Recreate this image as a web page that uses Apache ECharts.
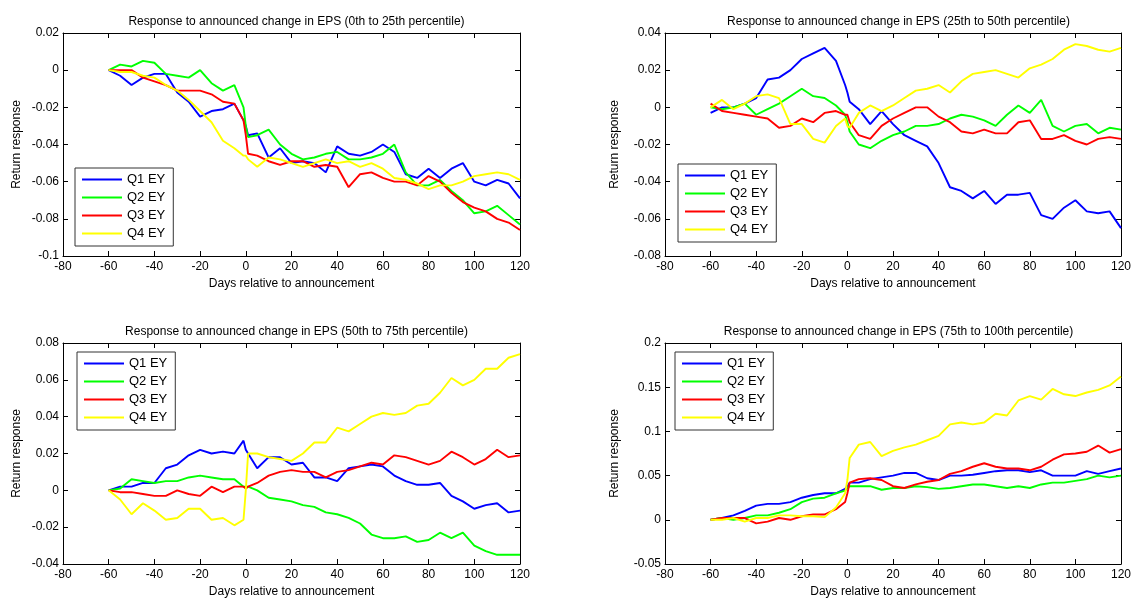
<!DOCTYPE html>
<html>
<head>
<meta charset="utf-8">
<title>Response to announced change in EPS</title>
<script src="https://cdn.jsdelivr.net/npm/echarts@6/dist/echarts.min.js"></script>
<style>
  html, body { margin: 0; padding: 0; background: #fff; }
  #chart { width: 1134px; height: 599px; }
</style>
</head>
<body>
<div id="chart"></div>
<script>
// days relative to announcement (sampled)
const days = [-60, -55, -50, -45, -40, -35, -30, -25, -20, -15, -10, -5, -1, 0, 1,
  5, 10, 15, 20, 25, 30, 35, 40, 45, 50, 55, 60, 65, 70, 75, 80, 85, 90, 95, 100, 105, 110, 115, 120]

const seriesNames = ['Q1 EY', 'Q2 EY', 'Q3 EY', 'Q4 EY']
const panelTitles = [
  'Response to announced change in EPS (0th to 25th percentile)',
  'Response to announced change in EPS (25th to 50th percentile)',
  'Response to announced change in EPS (50th to 75th percentile)',
  'Response to announced change in EPS (75th to 100th percentile)'
]
const xTicks = { min: -80, max: 120, interval: 20 }
const yTicks = [
  { min: -0.1, max: 0.02, interval: 0.02 },
  { min: -0.08, max: 0.04, interval: 0.02 },
  { min: -0.04, max: 0.08, interval: 0.02 },
  { min: -0.05, max: 0.2, interval: 0.05 }
]

// 0th to 25th percentile
const p1Q1 = [0, -0.003, -0.008, -0.004, -0.002, -0.002, -0.012, -0.017, -0.025, -0.022, -0.021, -0.018, -0.027, -0.03, -0.035,
  -0.034, -0.047, -0.042, -0.05, -0.049, -0.05, -0.055, -0.041, -0.045, -0.046, -0.044, -0.04, -0.044, -0.056, -0.058, -0.053, -0.058, -0.053, -0.05, -0.06, -0.062, -0.059, -0.061, -0.069]
const p1Q2 = [0, 0.003, 0.002, 0.005, 0.004, -0.002, -0.003, -0.004, 0, -0.007, -0.011, -0.008, -0.02, -0.03, -0.036,
  -0.035, -0.032, -0.04, -0.045, -0.048, -0.047, -0.045, -0.044, -0.048, -0.048, -0.047, -0.045, -0.04, -0.055, -0.062, -0.062, -0.059, -0.065, -0.07, -0.077, -0.076, -0.073, -0.078, -0.083]
const p1Q3 = [0, 0, 0, -0.004, -0.006, -0.008, -0.011, -0.011, -0.011, -0.013, -0.017, -0.018, -0.027, -0.035, -0.045,
  -0.046, -0.049, -0.051, -0.049, -0.049, -0.052, -0.051, -0.052, -0.063, -0.056, -0.055, -0.058, -0.06, -0.06, -0.062, -0.057, -0.06, -0.066, -0.071, -0.074, -0.076, -0.08, -0.082, -0.086]
const p1Q4 = [0, -0.001, -0.001, -0.003, -0.004, -0.008, -0.011, -0.016, -0.022, -0.028, -0.038, -0.042, -0.046, -0.046, -0.048,
  -0.052, -0.047, -0.048, -0.05, -0.052, -0.05, -0.048, -0.05, -0.049, -0.052, -0.05, -0.053, -0.058, -0.059, -0.061, -0.064, -0.062, -0.062, -0.06, -0.057, -0.056, -0.055, -0.056, -0.059]

// 25th to 50th percentile
const p2Q1 = [-0.003, 0, 0, 0.002, 0.005, 0.015, 0.016, 0.02, 0.026, 0.029, 0.032, 0.025, 0.012, 0.008, 0.003,
  -0.001, -0.009, -0.002, -0.009, -0.015, -0.018, -0.021, -0.03, -0.043, -0.045, -0.049, -0.045, -0.052, -0.047, -0.047, -0.046, -0.058, -0.06, -0.054, -0.05, -0.056, -0.057, -0.056, -0.065]
const p2Q2 = [0, -0.001, 0, 0.002, -0.004, -0.001, 0.002, 0.006, 0.01, 0.006, 0.005, 0.001, -0.004, -0.008, -0.013,
  -0.02, -0.022, -0.018, -0.015, -0.013, -0.01, -0.01, -0.009, -0.006, -0.004, -0.005, -0.007, -0.01, -0.004, 0.001, -0.003, 0.004, -0.01, -0.013, -0.01, -0.009, -0.014, -0.011, -0.012]
const p2Q3 = [0.002, -0.002, -0.003, -0.004, -0.005, -0.006, -0.011, -0.01, -0.006, -0.008, -0.003, -0.002, -0.004, -0.004, -0.008,
  -0.015, -0.017, -0.01, -0.006, -0.003, 0, 0, -0.005, -0.008, -0.013, -0.014, -0.012, -0.014, -0.014, -0.008, -0.007, -0.017, -0.017, -0.015, -0.018, -0.02, -0.017, -0.016, -0.017]
const p2Q4 = [0, 0.004, -0.001, 0.002, 0.006, 0.007, 0.005, -0.009, -0.009, -0.017, -0.019, -0.01, -0.006, -0.01, -0.011,
  -0.003, 0.001, -0.002, 0.001, 0.005, 0.009, 0.01, 0.012, 0.008, 0.014, 0.018, 0.019, 0.02, 0.018, 0.016, 0.021, 0.023, 0.026, 0.031, 0.034, 0.033, 0.031, 0.03, 0.032]

// 50th to 75th percentile
const p3Q1 = [0, 0.002, 0.002, 0.004, 0.004, 0.012, 0.014, 0.019, 0.022, 0.02, 0.021, 0.02, 0.027, 0.022, 0.02,
  0.012, 0.018, 0.018, 0.014, 0.015, 0.007, 0.007, 0.005, 0.012, 0.013, 0.014, 0.013, 0.008, 0.005, 0.003, 0.003, 0.004, -0.003, -0.006, -0.01, -0.008, -0.007, -0.012, -0.011]
const p3Q2 = [0, 0.001, 0.006, 0.005, 0.004, 0.005, 0.005, 0.007, 0.008, 0.007, 0.006, 0.006, 0.002, 0.002, 0.002,
  0, -0.004, -0.005, -0.006, -0.008, -0.009, -0.012, -0.013, -0.015, -0.018, -0.024, -0.026, -0.026, -0.025, -0.028, -0.027, -0.023, -0.026, -0.023, -0.03, -0.033, -0.035, -0.035, -0.035]
const p3Q3 = [0, -0.001, -0.001, -0.002, -0.003, -0.003, 0, -0.002, -0.003, 0.002, -0.001, 0.002, 0.002, 0.001, 0.002,
  0.004, 0.008, 0.01, 0.011, 0.01, 0.01, 0.007, 0.01, 0.011, 0.013, 0.015, 0.014, 0.019, 0.018, 0.016, 0.014, 0.016, 0.021, 0.018, 0.014, 0.017, 0.022, 0.018, 0.019]
const p3Q4 = [0, -0.005, -0.013, -0.007, -0.011, -0.016, -0.015, -0.01, -0.01, -0.016, -0.015, -0.019, -0.016, 0, 0.02,
  0.02, 0.018, 0.017, 0.016, 0.02, 0.026, 0.026, 0.034, 0.032, 0.036, 0.04, 0.042, 0.041, 0.042, 0.046, 0.047, 0.053, 0.061, 0.057, 0.06, 0.066, 0.066, 0.072, 0.074]

// 75th to 100th percentile
const p4Q1 = [0, 0.002, 0.005, 0.01, 0.016, 0.018, 0.018, 0.02, 0.025, 0.028, 0.03, 0.03, 0.035, 0.038, 0.042,
  0.042, 0.046, 0.048, 0.05, 0.053, 0.053, 0.047, 0.045, 0.05, 0.05, 0.051, 0.053, 0.055, 0.056, 0.056, 0.054, 0.056, 0.05, 0.05, 0.05, 0.055, 0.052, 0.055, 0.058]
const p4Q2 = [0, 0.002, 0, 0.002, 0.005, 0.005, 0.008, 0.012, 0.02, 0.024, 0.025, 0.03, 0.033, 0.036, 0.038,
  0.038, 0.038, 0.034, 0.036, 0.036, 0.038, 0.037, 0.035, 0.036, 0.038, 0.04, 0.04, 0.038, 0.036, 0.038, 0.036, 0.04, 0.042, 0.042, 0.044, 0.046, 0.05, 0.048, 0.05]
const p4Q3 = [0, 0.002, 0.002, 0.002, -0.004, -0.002, 0.002, 0, 0.004, 0.006, 0.006, 0.012, 0.02, 0.03, 0.042,
  0.046, 0.047, 0.045, 0.038, 0.036, 0.04, 0.043, 0.045, 0.052, 0.055, 0.06, 0.064, 0.06, 0.058, 0.058, 0.056, 0.06, 0.068, 0.074, 0.075, 0.077, 0.084, 0.076, 0.08]
const p4Q4 = [0, 0, 0.002, -0.002, 0.002, 0.002, 0.005, 0.005, 0.004, 0.004, 0.003, 0.014, 0.03, 0.045, 0.07,
  0.085, 0.088, 0.072, 0.078, 0.082, 0.085, 0.09, 0.095, 0.108, 0.11, 0.108, 0.11, 0.12, 0.118, 0.135, 0.14, 0.136, 0.148, 0.142, 0.14, 0.144, 0.147, 0.152, 0.162]

const panels = [
  [p1Q1, p1Q2, p1Q3, p1Q4],
  [p2Q1, p2Q2, p2Q3, p2Q4],
  [p3Q1, p3Q2, p3Q3, p3Q4],
  [p4Q1, p4Q2, p4Q3, p4Q4]
]
const colors = ['#0000ff', '#00ff00', '#ff0000', '#ffff00']

const font = "'Liberation Sans', Arial, sans-serif"

// grid boxes in px
const grids = [
  { left: 63, top: 33, width: 457, height: 223 },
  { left: 665, top: 33, width: 457, height: 223 },
  { left: 63, top: 343, width: 457, height: 223 },
  { left: 665, top: 343, width: 457, height: 223 }
]
const legendPos = [
  { left: 75, top: 168 },
  { left: 678, top: 164 },
  { left: 77, top: 352 },
  { left: 675, top: 352 }
]

const chart = echarts.init(document.getElementById('chart'), null, { renderer: 'canvas' })

const tick = { show: true, inside: true, length: 5, lineStyle: { color: '#000' } }
const line = { show: true, onZero: false, lineStyle: { color: '#000', width: 1 } }

const xAxis = []
const yAxis = []
grids.forEach((g, i) => {
  // bottom axis with labels
  xAxis.push({
    type: 'value', gridIndex: i, position: 'bottom', ...xTicks,
    axisLine: line, axisTick: tick, splitLine: { show: false },
    axisLabel: { color: '#000', fontSize: 12, fontFamily: font, margin: 5 },
    name: 'Days relative to announcement', nameLocation: 'middle', nameGap: 22,
    nameTextStyle: { color: '#000', fontSize: 12, fontFamily: font }
  })
  // top ticks only
  xAxis.push({
    type: 'value', gridIndex: i, position: 'top', ...xTicks,
    axisLine: line, axisTick: tick, axisLabel: { show: false }, splitLine: { show: false }
  })
  yAxis.push({
    type: 'value', gridIndex: i, position: 'left', ...yTicks[i],
    axisLine: line, axisTick: tick, splitLine: { show: false },
    axisLabel: { color: '#000', fontSize: 12, fontFamily: font, margin: 4 },
    name: 'Return response', nameLocation: 'middle', nameGap: i % 2 === 0 ? 40 : 44,
    nameTextStyle: { color: '#000', fontSize: 12, fontFamily: font }
  })
  yAxis.push({
    type: 'value', gridIndex: i, position: 'right', ...yTicks[i],
    axisLine: line, axisTick: tick, axisLabel: { show: false }, splitLine: { show: false }
  })
})

const series = []
panels.forEach((vals, p) => {
  vals.forEach((arr, k) => {
    series.push({
      name: seriesNames[k],
      type: 'line',
      xAxisIndex: p * 2,
      yAxisIndex: p * 2,
      data: days.map((d, j) => [d, arr[j]]),
      showSymbol: false,
      symbol: 'none',
      animation: false,
      lineStyle: { color: colors[k], width: 1.9 },
      itemStyle: { color: colors[k] }
    })
  })
})

const option = {
  backgroundColor: '#fff',
  animation: false,
  title: grids.map((g, i) => ({
    text: panelTitles[i],
    left: g.left + g.width / 2,
    top: g.top - 22,
    textAlign: 'center',
    textStyle: { color: '#000', fontSize: 12, fontWeight: 'normal', fontFamily: font }
  })),
  grid: grids,
  xAxis,
  yAxis,
  legend: legendPos.map(pos => ({
    data: seriesNames,
    orient: 'vertical',
    left: pos.left,
    top: pos.top,
    icon: 'rect',
    itemWidth: 40,
    itemHeight: 2,
    itemGap: 5,
    padding: [5, 8, 6, 7],
    borderColor: '#333',
    borderWidth: 1,
    backgroundColor: '#fff',
    selectedMode: false,
    textStyle: { color: '#000', fontSize: 13, fontFamily: font }
  })),
  series
}

chart.setOption(option)
</script>
</body>
</html>
